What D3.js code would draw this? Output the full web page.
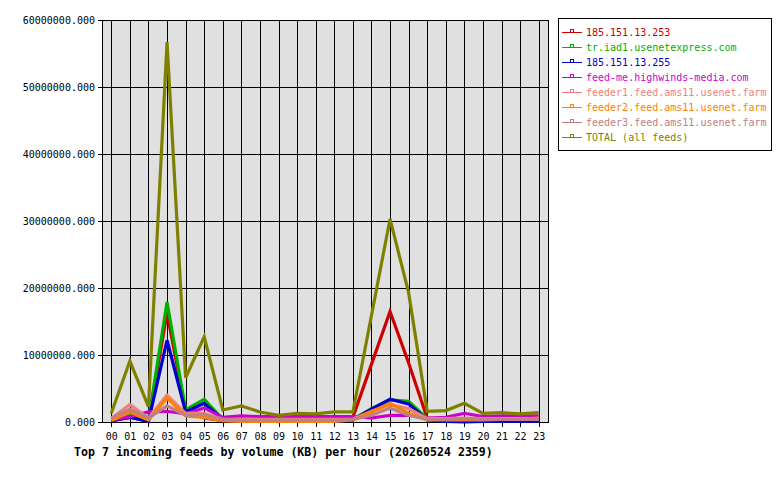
<!DOCTYPE html>
<html><head><meta charset="utf-8">
<script src="https://cdn.jsdelivr.net/npm/d3@7"></script>
<style>
html,body{margin:0;padding:0;background:#fff;}
svg{display:block;}
text{font-family:"DejaVu Sans Mono",monospace;}
</style></head>
<body>
<svg id="c" width="780" height="480"></svg>
<script>
const hours = ["00","01","02","03","04","05","06","07","08","09","10","11","12","13","14","15","16","17","18","19","20","21","22","23"];
const yTicks = [0,10000000,20000000,30000000,40000000,50000000,60000000];
const seriesNames = ["185.151.13.253","tr.iad1.usenetexpress.com","185.151.13.255","feed-me.highwinds-media.com","feeder1.feed.ams11.usenet.farm","feeder2.feed.ams11.usenet.farm","feeder3.feed.ams11.usenet.farm","TOTAL (all feeds)"];
const seriesColors = ["#cc0000","#00b000","#0000cc","#cc00cc","#f08080","#ff8000","#c08080","#808000"];
const s253 = [200000,700000,100000,16300000,1600000,600000,200000,100000,100000,100000,100000,100000,100000,700000,8600000,16500000,8800000,600000,200000,100000,100000,100000,100000,100000];
const sIad1 = [300000,1000000,200000,17900000,1800000,3400000,400000,200000,200000,200000,200000,200000,200000,400000,2000000,3300000,3100000,500000,200000,200000,200000,200000,200000,200000];
const s255 = [200000,700000,100000,12200000,1500000,2800000,300000,100000,100000,100000,100000,100000,100000,300000,1900000,3400000,2700000,300000,100000,0,100000,100000,100000,100000];
const sFeedMe = [300000,800000,1500000,1600000,1200000,2100000,700000,900000,800000,800000,800000,800000,800000,800000,600000,1000000,1000000,600000,700000,1300000,800000,900000,900000,900000];
const sFeeder1 = [500000,2600000,600000,4000000,1300000,1300000,400000,400000,400000,400000,400000,400000,400000,400000,1600000,2600000,2000000,500000,500000,600000,500000,500000,500000,500000];
const sFeeder2 = [200000,1500000,300000,3600000,900000,700000,200000,100000,100000,100000,100000,100000,100000,300000,1500000,2800000,1300000,300000,300000,300000,300000,400000,400000,600000];
const sFeeder3 = [600000,1900000,600000,2400000,1000000,1100000,400000,300000,300000,300000,300000,300000,300000,400000,1000000,2100000,1000000,400000,400000,500000,400000,400000,400000,400000];
const sTotal = [1300000,9100000,2300000,56700000,6600000,12700000,1800000,2400000,1500000,1000000,1300000,1200000,1500000,1500000,15900000,30300000,19300000,1600000,1700000,2800000,1300000,1400000,1200000,1400000];
const titleText = "Top 7 incoming feeds by volume (KB) per hour (20260524 2359)";

const allSeries = [s253,sIad1,s255,sFeedMe,sFeeder1,sFeeder2,sFeeder3,sTotal];

const svg = d3.select("#c");
const L=102,R=548,T=20,B=422;
const x = d3.scalePoint().domain(hours).range([L,R]).padding(0.5);
const y = d3.scaleLinear().domain([0,60000000]).range([B,T]);

svg.append("rect").attr("x",L).attr("y",T).attr("width",R-L).attr("height",B-T).attr("fill","#e0e0e0");

// grid
const g = svg.append("g").attr("shape-rendering","crispEdges");
g.selectAll("line.v").data(hours).join("line")
  .attr("x1",d=>Math.round(x(d))+0.5).attr("x2",d=>Math.round(x(d))+0.5)
  .attr("y1",T).attr("y2",B+5).attr("stroke","#000");
g.selectAll("line.h").data(yTicks).join("line")
  .attr("x1",L-4).attr("x2",R).attr("y1",d=>Math.round(y(d))+0.5).attr("y2",d=>Math.round(y(d))+0.5).attr("stroke","#000");
g.append("rect").attr("x",L+0.5).attr("y",T+0.5).attr("width",R-L).attr("height",B-T).attr("fill","none").attr("stroke","#000");

// axes labels
svg.selectAll("text.yl").data(yTicks).join("text")
  .attr("x",95).attr("y",d=>y(d)+4).attr("text-anchor","end")
  .attr("font-size","10px").attr("fill","#000").text(d=>d3.format(".3f")(d));
svg.selectAll("text.xl").data(hours).join("text")
  .attr("x",d=>x(d)+0.5).attr("y",440).attr("text-anchor","middle")
  .attr("font-size","10px").attr("fill","#000").text(d=>d);
svg.append("text").attr("x",74).attr("y",456).attr("font-size","11.6px").attr("font-weight","bold")
  .attr("fill","#000").text(titleText);

// lines
const line = d3.line().x((d,i)=>x(hours[i])).y(d=>y(d));
allSeries.forEach((s,k)=>{
  svg.append("path").datum(s).attr("d",line).attr("fill","none")
    .attr("stroke",seriesColors[k]).attr("stroke-width",3.2).attr("stroke-linejoin","miter");
});

// legend
const lg = svg.append("g");
lg.append("rect").attr("x",558.5).attr("y",18.5).attr("width",213).attr("height",132)
  .attr("fill","#fff").attr("stroke","#000").attr("shape-rendering","crispEdges");
seriesNames.forEach((n,k)=>{
  const yy = 32 + k*15;
  lg.append("line").attr("x1",562).attr("x2",582).attr("y1",yy+0.5).attr("y2",yy+0.5)
    .attr("stroke",seriesColors[k]).attr("shape-rendering","crispEdges");
  lg.append("rect").attr("x",570.5).attr("y",yy-2.5).attr("width",3).attr("height",3)
    .attr("fill","none").attr("stroke",seriesColors[k]).attr("shape-rendering","crispEdges");
  lg.append("text").attr("x",586).attr("y",yy+4).attr("font-size","10px")
    .attr("fill",seriesColors[k]).text(n);
});
</script>
</body></html>
